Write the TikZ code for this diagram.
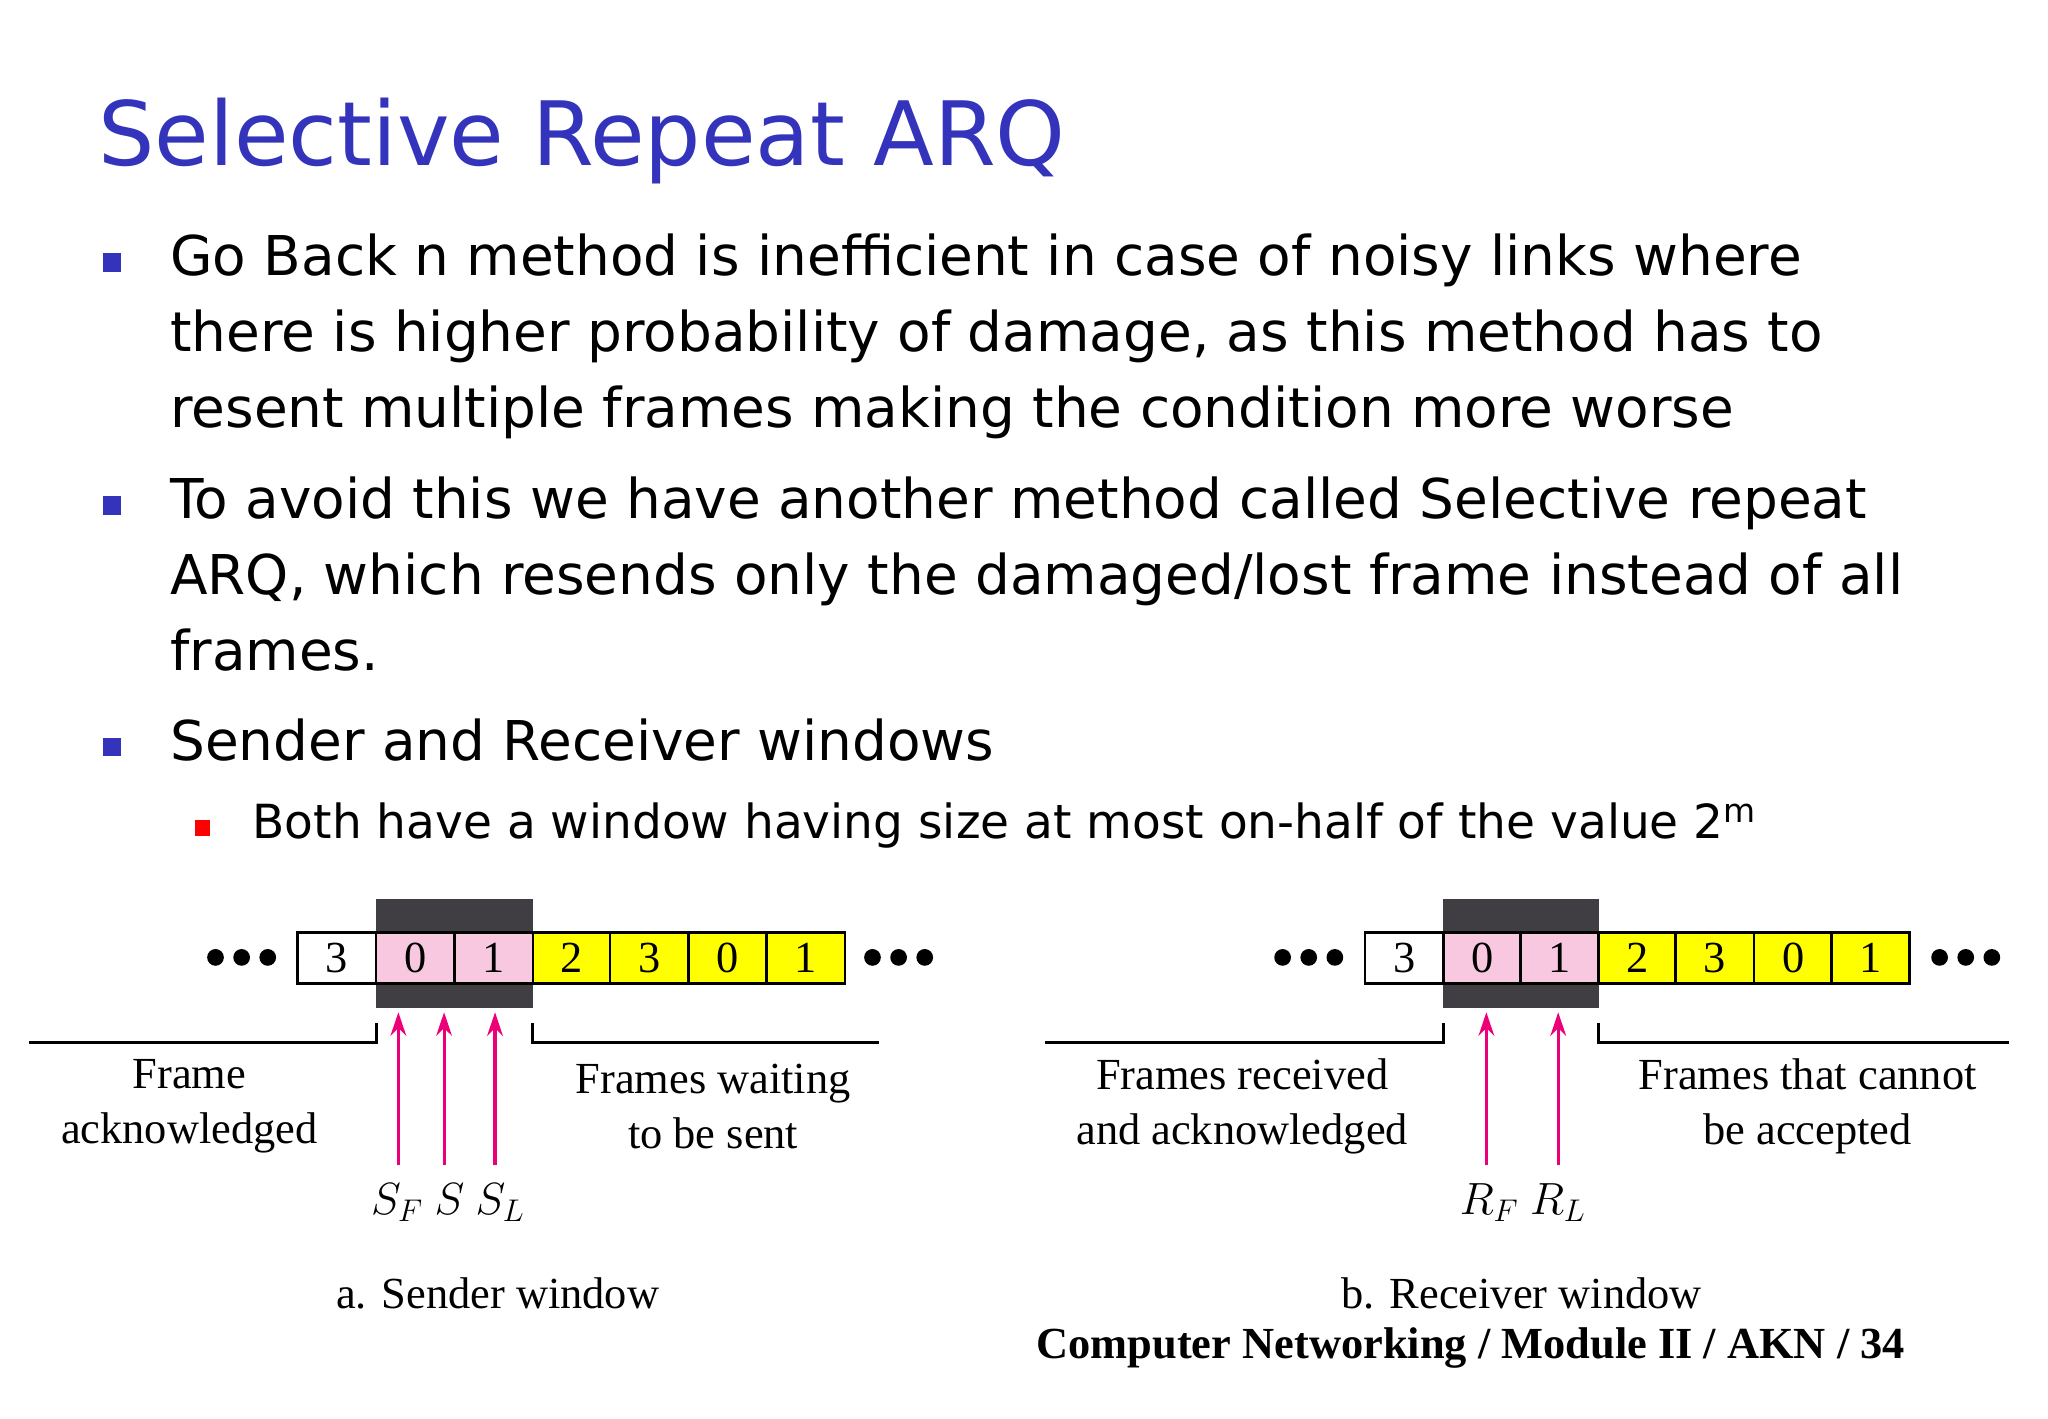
\documentclass[tikz,border=0pt]{standalone}
\usepackage{fontspec}
\setmainfont{DejaVu Sans}
\newfontfamily\ser{Liberation Serif}
\usetikzlibrary{arrows.meta}
\definecolor{ttl}{RGB}{51,51,187}
\definecolor{pinkc}{RGB}{248,200,224}
\definecolor{yel}{RGB}{255,255,0}
\definecolor{dark}{RGB}{64,62,66}
\definecolor{arr}{RGB}{236,0,120}
\begin{document}
\begin{tikzpicture}[x=0.5pt,y=-0.5pt,
  body/.style={anchor=base west,font=\fontsize{21}{25}\selectfont,inner sep=0},
  bul/.style={fill=ttl,minimum size=7pt,inner sep=0},
  cell/.style={draw,line width=1pt,minimum width=30pt,minimum height=19.5pt,inner sep=0,font=\ser\fontsize{17}{20}\selectfont},
  lab/.style={font=\ser\fontsize{17}{21}\selectfont,align=center,inner sep=0},
  ar/.style={draw=arr,line width=1.2pt,-{Stealth[length=9pt,width=6pt]}},
  brk/.style={line width=1.2pt}]
\useasboundingbox (0,0) rectangle (1568,1086);
\node[anchor=base west,inner sep=0,text=ttl,font=\fontsize{34}{40}\selectfont] (title) at (75,127) {Selective Repeat ARQ};
\node[bul] (b1) at (86,201) {};
\node[body] (t1) at (130,211) {Go Back n method is inefficient in case of noisy links where};
\node[body] (t1b) at (130,269) {there is higher probability of damage, as this method has to};
\node[body] (t1c) at (130,327) {resent multiple frames making the condition more worse};
\node[bul] (b2) at (86,387) {};
\node[body] (t2) at (130,397) {To avoid this we have another method called Selective repeat};
\node[body] (t2b) at (130,455) {ARQ, which resends only the damaged/lost frame instead of all};
\node[body] (t2c) at (130,513) {frames.};
\node[bul] (b3) at (86,572) {};
\node[body] (t3) at (130,582) {Sender and Receiver windows};
\node[bul,fill=red,minimum size=6pt] (b4) at (155,634) {};
\node[body,font=\fontsize{18}{22}\selectfont] (t4) at (193,642) {Both have a window having size at most on-half of the value 2\textsuperscript{m}};
% sender
\fill[dark] (288,688) rectangle (408,772);
\foreach \x/\t/\c [count=\i] in {258/3/white,318/0/pinkc,378/1/pinkc,438/2/yel,497/3/yel,557/0/yel,617/1/yel}
  \node[cell,fill=\c] (s\i) at (\x,733.5) {\t};
\foreach \x in {165,185,205,668,688,708} \fill (\x,733) circle (3.2pt);
\draw[brk] (22,798) -- (288,798) -- (288,783);
\draw[brk] (408,783) -- (408,798) -- (673,798);
\coordinate (a1) at (305,892); \coordinate (a2) at (340,892); \coordinate (a3) at (379,892);
\draw[ar] (a1) -- (305,775); \draw[ar] (a2) -- (340,775); \draw[ar] (a3) -- (379,775);
\node[lab] (sl) at (145,847) {Frame\\acknowledged};
\node[lab] (sr) at (546,847) {Frames waiting\\to be sent};
\node[lab,anchor=base] (sf) at (343,930) {$S_F$ $S$ $S_L$};
\node[lab] (cap1) at (381,990) {a. Sender window};
% receiver
\fill[dark] (1105,688) rectangle (1224,772);
\foreach \x/\t/\c [count=\i] in {1075/3/white,1135/0/pinkc,1194/1/pinkc,1254/2/yel,1313/3/yel,1373/0/yel,1432/1/yel}
  \node[cell,fill=\c] (r\i) at (\x,733.5) {\t};
\foreach \x in {982,1002,1022,1485,1505,1525} \fill (\x,733) circle (3.2pt);
\draw[brk] (800,798) -- (1105,798) -- (1105,783);
\draw[brk] (1224,783) -- (1224,798) -- (1538,798);
\coordinate (c1) at (1138,892); \coordinate (c2) at (1193,892);
\draw[ar] (c1) -- (1138,775); \draw[ar] (c2) -- (1193,775);
\node[lab] (rl) at (951,847) {Frames received\\and acknowledged};
\node[lab] (rr) at (1384,847) {Frames that cannot\\be accepted};
\node[lab,anchor=base] (rf) at (1166,930) {$R_F$ $R_L$};
\node[lab] (cap2) at (1165,990) {b. Receiver window};
\node[inner sep=0,font=\ser\bfseries\fontsize{17}{20}\selectfont] (foot) at (1126,1032) {Computer Networking / Module II / AKN / 34};
\end{tikzpicture}
\end{document}
